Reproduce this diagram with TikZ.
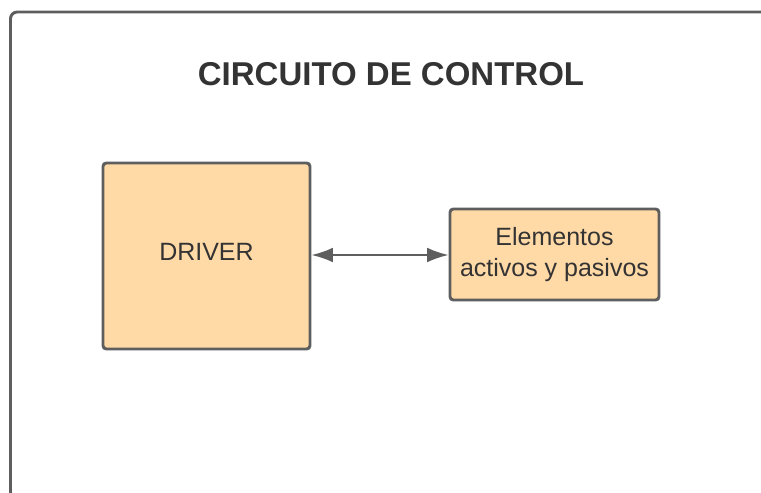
\documentclass[tikz,border=0pt]{standalone}
\usepackage{fontspec}
\setmainfont{Liberation Sans}
\usetikzlibrary{arrows.meta}
\definecolor{boxfill}{HTML}{FFD9A6}
\definecolor{boxline}{HTML}{5E5E5E}
\definecolor{txt}{HTML}{333333}
\tikzset{
  blockbox/.style={draw=boxline, fill=boxfill, line width=2.2pt, rounded corners=2.5pt,
    text=txt, align=center, font=\fontsize{18.75}{23}\selectfont, inner sep=0pt},
  framebox/.style={draw=boxline, line width=2.2pt, rounded corners=5pt},
  biarrow/.style={draw=boxline, line width=1.5pt, {Latex[length=16pt,width=11pt]}-{Latex[length=16pt,width=11pt]}}
}
\begin{document}
\begin{tikzpicture}[x=0.75pt,y=-0.75pt]
\useasboundingbox (0,0) rectangle (761,493);
\clip (0,0) rectangle (761,493);
\draw[framebox] (10.5,12) rectangle (820,540);
\node[text=txt, font=\bfseries\fontsize{24.75}{30}\selectfont] (title) at (391,74) {CIRCUITO DE CONTROL};
\node[blockbox, minimum width=155.25pt, minimum height=139.5pt] (driver) at (206.5,256) {};
\node[text=txt, font=\fontsize{18.75}{23}\selectfont, inner sep=0pt] (drivertext) at (206.5,252) {DRIVER};
\node[blockbox, minimum width=156.75pt, minimum height=68.25pt] (elem) at (554.5,254.5) {Elementos\\activos y pasivos};
\draw[biarrow] (driver.east |- 0,255) -- (elem.west |- 0,255);
\end{tikzpicture}
\end{document}
